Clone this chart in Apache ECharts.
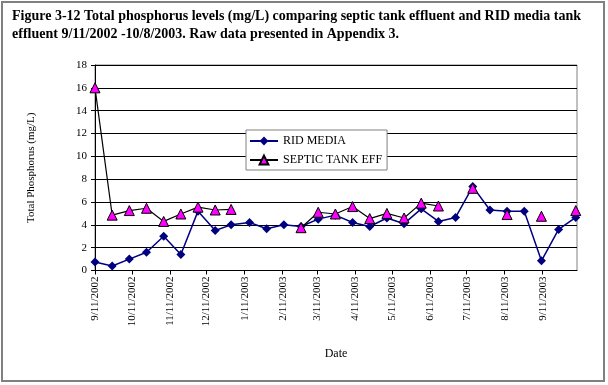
<!DOCTYPE html>
<html>
<head>
<meta charset="utf-8">
<script src="https://cdn.jsdelivr.net/npm/echarts@6/dist/echarts.min.js"></script>
<style>html,body{margin:0;padding:0;background:#fff;}#c{width:608px;height:385px;}</style>
</head>
<body>
<div id="c"></div>
<script>
var dates = ['2002-09-11','2002-09-25','2002-10-09','2002-10-23','2002-11-06','2002-11-20','2002-12-04','2002-12-18','2002-12-31','2003-01-15','2003-01-29','2003-02-12','2003-02-26','2003-03-12','2003-03-26','2003-04-09','2003-04-23','2003-05-07','2003-05-21','2003-06-04','2003-06-18','2003-07-02','2003-07-16','2003-07-30','2003-08-13','2003-08-27','2003-09-10','2003-09-24','2003-10-08'];
var ridMedia = [0.75,0.4,1.0,1.6,3.0,1.4,5.2,3.5,4.0,4.2,3.65,4.0,3.85,4.5,4.85,4.2,3.85,4.6,4.1,5.4,4.3,4.65,7.35,5.3,5.2,5.2,0.85,3.6,4.65];
var septicTank = [16.0,4.85,5.25,5.45,4.3,4.95,5.55,5.3,5.35,null,null,null,3.75,5.1,4.95,5.6,4.55,5.0,4.6,5.9,5.65,null,7.2,null,4.9,null,4.75,null,5.25];
var tickDates = ['2002-09-11','2002-10-11','2002-11-11','2002-12-11','2003-01-11','2003-02-11','2003-03-11','2003-04-11','2003-05-11','2003-06-11','2003-07-11','2003-08-11','2003-09-11'];
var axisMinDate = '2002-09-11';
var axisMaxDate = '2003-10-09';
var yTicks = [0,2,4,6,8,10,12,14,16,18];

function ts(s){var p=s.split('-');return Date.UTC(+p[0],+p[1]-1,+p[2]);}
function fmt(v){var d=new Date(v);return (d.getUTCMonth()+1)+'/'+d.getUTCDate()+'/'+d.getUTCFullYear();}
var serif = '"Liberation Serif","Times New Roman",serif';
var chart = echarts.init(document.getElementById('c'));
chart.setOption({
  animation:false,
  backgroundColor:'#fff',
  textStyle:{fontFamily:serif},
  title:{
    text:'Figure 3-12 Total phosphorus levels (mg/L) comparing septic tank effluent and RID media tank\neffluent 9/11/2002 -10/8/2003. Raw data presented in Appendix 3.',
    left:7, top:2,
    textStyle:{fontFamily:serif,fontWeight:'bold',fontSize:14,lineHeight:18,color:'#000'}
  },
  graphic:[{type:'rect',shape:{x:2,y:2,width:602,height:379},style:{fill:null,stroke:'#808080',lineWidth:2},silent:true}],
  grid:{left:95,right:31,top:65,bottom:114.5,show:true,borderColor:'#808080',borderWidth:1,backgroundColor:'#fff'},
  legend:{
    orient:'vertical', left:246, top:130,
    backgroundColor:'#fff', borderColor:'#808080', borderWidth:1,
    padding:[5,5,4,3], itemGap:7, itemWidth:28, itemHeight:11,
    textStyle:{fontFamily:serif,fontSize:12,color:'#000'},
    data:['RID MEDIA','SEPTIC TANK EFF']
  },
  xAxis:{
    type:'value', min:ts(axisMinDate), max:ts(axisMaxDate),
    name:'Date', nameLocation:'middle', nameGap:77,
    nameTextStyle:{fontFamily:serif,fontSize:12,color:'#000'},
    axisLine:{lineStyle:{color:'#000',width:1}},
    axisTick:{show:true,length:4,lineStyle:{color:'#000'},customValues:tickDates.map(ts)},
    axisLabel:{rotate:90,fontFamily:serif,fontSize:11,color:'#000',margin:6,customValues:tickDates.map(ts),formatter:function(v){return fmt(v);}},
    splitLine:{show:false}
  },
  yAxis:{
    type:'value', min:yTicks[0], max:yTicks[yTicks.length-1], interval:2,
    name:'Total Phosphorus (mg/L)', nameLocation:'middle', nameGap:58,
    nameTextStyle:{fontFamily:serif,fontSize:11,color:'#000'},
    axisLine:{show:true,lineStyle:{color:'#000'}},
    axisTick:{show:true,length:4,lineStyle:{color:'#000'}},
    axisLabel:{fontFamily:serif,fontSize:11,color:'#000',margin:8},
    splitLine:{lineStyle:{color:'#000',width:1}}
  },
  series:[
    {name:'RID MEDIA',type:'line',data:dates.map(function(d,i){return [ts(d),ridMedia[i]];}),
     symbol:'diamond',symbolSize:9,lineStyle:{color:'#000080',width:1.5},itemStyle:{color:'#000080'},z:3},
    {name:'SEPTIC TANK EFF',type:'line',data:dates.map(function(d,i){return [ts(d),septicTank[i]];}),connectNulls:false,
     symbol:'triangle',symbolSize:10,lineStyle:{color:'#000',width:1.2},itemStyle:{color:'#FF00FF',borderColor:'#000',borderWidth:1},z:4}
  ]
});
</script>
</body>
</html>
